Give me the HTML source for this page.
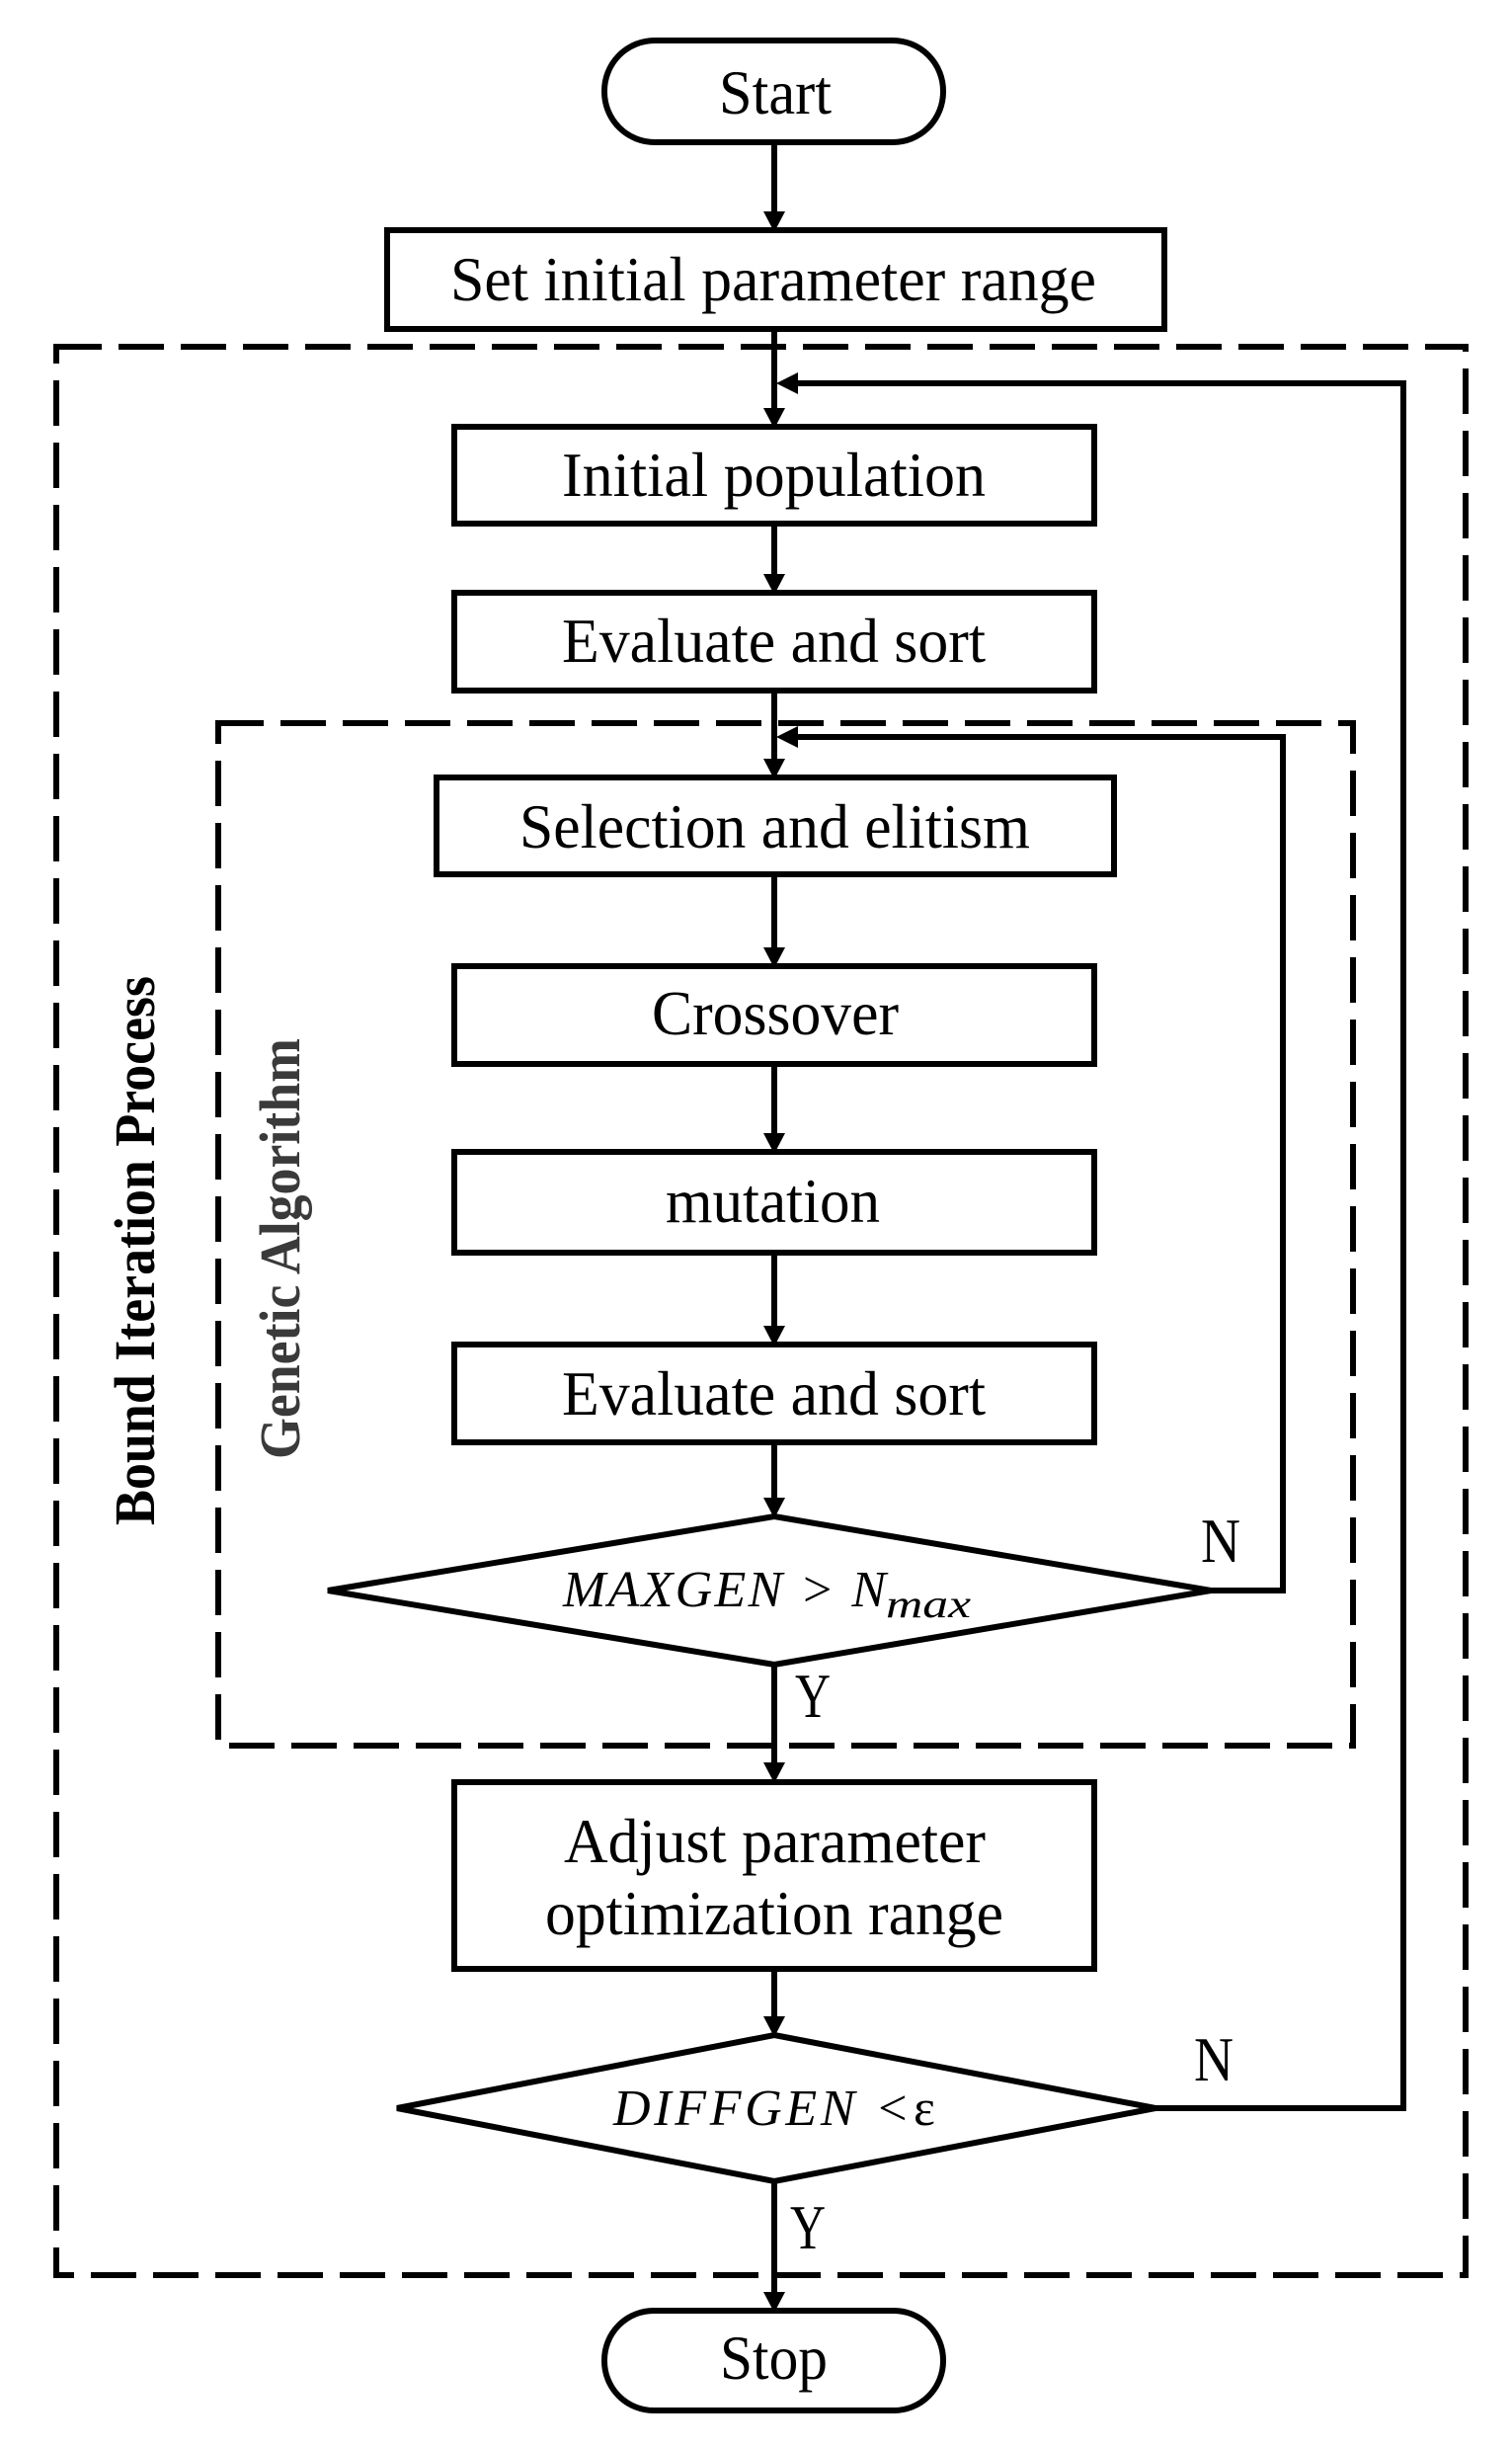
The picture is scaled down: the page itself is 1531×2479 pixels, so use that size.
<!DOCTYPE html>
<html><head><meta charset="utf-8"><style>
html,body{margin:0;padding:0;background:#fff;}
svg{display:block;}
text{font-family:"Liberation Serif",serif;fill:#000;}
</style></head><body>
<svg width="1531" height="2479" viewBox="0 0 1531 2479" xmlns="http://www.w3.org/2000/svg">
<g fill="none" stroke="#000" stroke-width="6">
<rect x="57" y="351" width="1427" height="1952" stroke-dasharray="46 17"/>
<rect x="221" y="732" width="1149" height="1035" stroke-dasharray="46 17"/>
<rect x="612" y="41" width="343" height="103" rx="51" ry="51"/>
<rect x="612" y="2339" width="343" height="101" rx="50" ry="50"/>
<rect x="392" y="233" width="787" height="100"/>
<rect x="460" y="432" width="648" height="98"/>
<rect x="460" y="600" width="648" height="99"/>
<rect x="442" y="787" width="686" height="98"/>
<rect x="460" y="978" width="648" height="99"/>
<rect x="460" y="1166" width="648" height="102"/>
<rect x="460" y="1361" width="648" height="99"/>
<rect x="460" y="1804" width="648" height="189"/>
<polygon points="784,1535 1226,1610 784,1685 332,1610"/>
<polygon points="784,2060 1170,2134 784,2208 402,2134"/>
<line x1="784" y1="144" x2="784" y2="216"/>
<line x1="784" y1="333" x2="784" y2="415"/>
<line x1="784" y1="530" x2="784" y2="583"/>
<line x1="784" y1="699" x2="784" y2="770"/>
<line x1="784" y1="885" x2="784" y2="961"/>
<line x1="784" y1="1077" x2="784" y2="1149"/>
<line x1="784" y1="1268" x2="784" y2="1344"/>
<line x1="784" y1="1460" x2="784" y2="1518"/>
<line x1="784" y1="1685" x2="784" y2="1786"/>
<line x1="784" y1="1993" x2="784" y2="2043"/>
<line x1="784" y1="2208" x2="784" y2="2322"/>
<polyline points="1226,1610 1299,1610 1299,746 805,746"/>
<polyline points="1170,2134 1421,2134 1421,388 805,388"/>
</g>
<g fill="#000">
<polygon points="773,214 795,214 784,235"/>
<polygon points="773,413 795,413 784,434"/>
<polygon points="773,581 795,581 784,602"/>
<polygon points="773,768 795,768 784,789"/>
<polygon points="773,959 795,959 784,980"/>
<polygon points="773,1147 795,1147 784,1168"/>
<polygon points="773,1342 795,1342 784,1363"/>
<polygon points="773,1516 795,1516 784,1537"/>
<polygon points="773,1784 795,1784 784,1805"/>
<polygon points="773,2041 795,2041 784,2062"/>
<polygon points="773,2320 795,2320 784,2341"/>
<polygon points="786,746 808,735 808,757"/>
<polygon points="786,388 808,377 808,399"/>
</g>
<g font-size="63">
<text x="728" y="115" textLength="114" lengthAdjust="spacingAndGlyphs">Start</text>
<text x="456" y="304" textLength="654" lengthAdjust="spacingAndGlyphs">Set initial parameter range</text>
<text x="569" y="502" textLength="429" lengthAdjust="spacingAndGlyphs">Initial population</text>
<text x="569" y="670" textLength="429" lengthAdjust="spacingAndGlyphs">Evaluate and sort</text>
<text x="526" y="858" textLength="517" lengthAdjust="spacingAndGlyphs">Selection and elitism</text>
<text x="660" y="1047" textLength="250" lengthAdjust="spacingAndGlyphs">Crossover</text>
<text x="674" y="1237" textLength="217" lengthAdjust="spacingAndGlyphs">mutation</text>
<text x="569" y="1432" textLength="429" lengthAdjust="spacingAndGlyphs">Evaluate and sort</text>
<text x="571" y="1885" textLength="427" lengthAdjust="spacingAndGlyphs">Adjust parameter</text>
<text x="552" y="1958" textLength="464" lengthAdjust="spacingAndGlyphs">optimization range</text>
<text x="729" y="2408" textLength="109" lengthAdjust="spacingAndGlyphs">Stop</text>
<text x="1216" y="1581" textLength="40" lengthAdjust="spacingAndGlyphs">N</text>
<text x="1209" y="2106" textLength="40" lengthAdjust="spacingAndGlyphs">N</text>
<text x="805" y="1738" textLength="36" lengthAdjust="spacingAndGlyphs">Y</text>
<text x="800" y="2276" textLength="36" lengthAdjust="spacingAndGlyphs">Y</text>
</g>
<text x="570" y="1626" font-size="52" font-style="italic" textLength="327" lengthAdjust="spacing">MAXGEN &gt; N</text>
<text x="897" y="1637" font-size="40" font-style="italic" textLength="86" lengthAdjust="spacingAndGlyphs">max</text>
<text x="621" y="2151" font-size="52" font-style="italic" textLength="300" lengthAdjust="spacing">DIFFGEN &lt;</text>
<text x="925" y="2151" font-size="52">ε</text>
<text transform="translate(156,1544) rotate(-90)" font-size="58" font-weight="bold" textLength="556" lengthAdjust="spacingAndGlyphs">Bound Iteration Process</text>
<text transform="translate(303,1477) rotate(-90)" font-size="58" font-weight="bold" style="fill:#3a3a3a" textLength="426" lengthAdjust="spacingAndGlyphs">Genetic Algorithm</text>
</svg>
</body></html>
